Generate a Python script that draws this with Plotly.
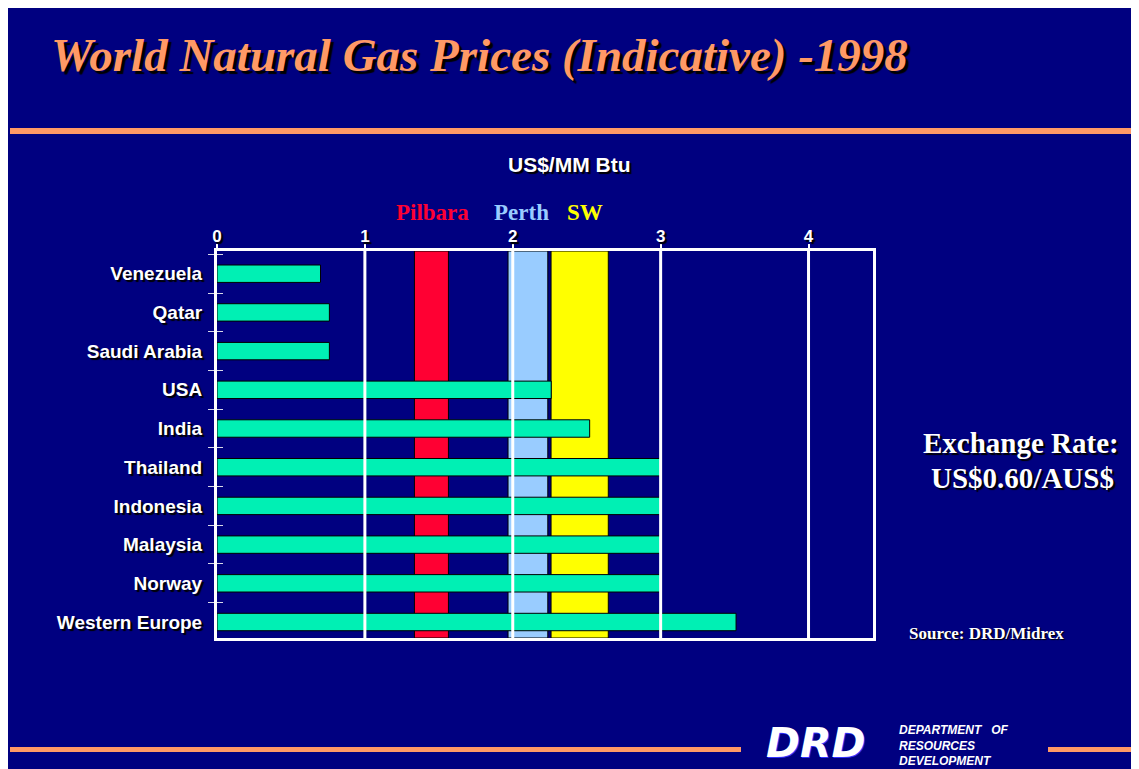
import plotly.graph_objects as go

# ---------------- data ----------------
countries = ["Venezuela", "Qatar", "Saudi Arabia", "USA", "India", "Thailand",
             "Indonesia", "Malaysia", "Norway", "Western Europe"]
prices = [0.70, 0.76, 0.76, 2.26, 2.52, 3.00, 3.00, 3.00, 3.00, 3.51]   # US$/MM Btu

band_names = ["Pilbara", "Perth", "SW"]
band_low = [1.335, 1.968, 2.259]
band_high = [1.565, 2.237, 2.646]
band_colors = ["#FF0033", "#99CCFF", "#FFFF00"]

x_ticks = [0, 1, 2, 3, 4]

# ---------------- layout helpers ----------------
W, H = 1139, 769
OFF = 8                       # page body margin of the browser
L, R, T, B = 217, 873, 251, 638   # plot area in screenshot pixels
NAVY = "#000080"
ORANGE = "#FF9966"
TEAL = "#00F0B4"


def px(x):
    return (x - L) / (R - L)


def py(y):
    return (B - y) / (B - T)


fig = go.Figure()

fig.add_trace(go.Bar(
    y=countries, x=prices, orientation="h", width=0.45,
    marker=dict(color=TEAL, line=dict(color="#000000", width=1)),
    showlegend=False, hoverinfo="x+y",
))
# invisible trace carrying the overlay axis for crossing tick marks
fig.add_trace(go.Scatter(x=[None], y=[None], yaxis="y2", showlegend=False, hoverinfo="skip"))

shapes = []
# price bands
for lo, hi, col in zip(band_low, band_high, band_colors):
    shapes.append(dict(type="rect", xref="x", yref="y domain", x0=lo, x1=hi, y0=0, y1=1,
                       fillcolor=col, line=dict(color="#000000", width=1), layer="below"))
# vertical grid lines drawn over bars
for t in x_ticks[1:]:
    shapes.append(dict(type="line", xref="x", yref="y domain", x0=t, x1=t, y0=0, y1=1,
                       line=dict(color="#FFFFFF", width=3), layer="above"))
# orange rules
shapes.append(dict(type="rect", xref="paper", yref="paper", x0=px(10), x1=px(W + 20),
                   y0=py(134), y1=py(128), fillcolor=ORANGE, line=dict(width=0), layer="above"))
shapes.append(dict(type="rect", xref="paper", yref="paper", x0=px(10), x1=px(741),
                   y0=py(752), y1=py(747), fillcolor=ORANGE, line=dict(width=0), layer="above"))
shapes.append(dict(type="rect", xref="paper", yref="paper", x0=px(1048), x1=px(W + 20),
                   y0=py(752), y1=py(747), fillcolor=ORANGE, line=dict(width=0), layer="above"))

SH = "2px 2px 1px #000000"
ann = []
ann.append(dict(text="World Natural Gas Prices (Indicative) -1998", x=px(49), y=py(55),
                xanchor="left", yanchor="middle",
                font=dict(family="Liberation Serif", size=47, color=ORANGE, weight="bold",
                          style="italic", shadow="3px 3px 1px #000000")))
ann.append(dict(text="US$/MM Btu", x=px(569), y=py(165), xanchor="center", yanchor="middle",
                font=dict(family="Liberation Sans", size=21, color="#FFFFFF", weight="bold", shadow=SH)))
for name, col, cx in zip(band_names, band_colors, [432, 521, 585]):
    ann.append(dict(text=name, x=px(cx), y=py(213), xanchor="center", yanchor="middle",
                    font=dict(family="Liberation Serif", size=23, color=col, weight="bold")))
ann.append(dict(text="Exchange Rate:", x=px(1021), y=py(443), xanchor="center", yanchor="middle",
                font=dict(family="Liberation Serif", size=29, color="#FFFFFF", weight="bold", shadow=SH)))
ann.append(dict(text="US$0.60/AUS$", x=px(1022), y=py(478), xanchor="center", yanchor="middle",
                font=dict(family="Liberation Serif", size=29, color="#FFFFFF", weight="bold", shadow=SH)))
ann.append(dict(text="Source: DRD/Midrex", x=px(907), y=py(633), xanchor="left", yanchor="middle",
                font=dict(family="Liberation Serif", size=17, color="#FFFFFF", weight="bold",
                          shadow="1px 1px 1px #000000")))
ann.append(dict(text="DRD", x=px(764), y=py(743), xanchor="left", yanchor="middle",
                font=dict(family="DejaVu Sans", size=41, color="#FFFFFF", weight="bold", style="italic",
                          shadow="1px 1px 0px #3333FF")))
ann.append(dict(text="DEPARTMENT   OF<br>RESOURCES<br>DEVELOPMENT", x=px(897), y=py(745),
                xanchor="left", yanchor="middle", align="left",
                font=dict(family="Liberation Sans", size=12, color="#FFFFFF", weight="bold",
                          style="italic")))
for a in ann:
    a.update(xref="paper", yref="paper", showarrow=False)

y_range = [9.413, -0.587]
fig.update_layout(
    width=W, height=H,
    margin=dict(l=L - OFF, r=W - (R - OFF), t=T - OFF, b=H - (B - OFF), pad=0),
    paper_bgcolor=NAVY, plot_bgcolor="rgba(0,0,0,0)",
    xaxis=dict(range=[0, 4.436], side="top", tickvals=x_ticks, showgrid=False, zeroline=False,
               showline=True, mirror=True, linecolor="#FFFFFF", linewidth=3,
               ticks="outside", ticklen=4, tickwidth=2, tickcolor="#FFFFFF", ticklabelstandoff=-5,
               tickfont=dict(family="Liberation Sans", size=17, color="#FFFFFF", weight="bold", shadow=SH),
               fixedrange=True),
    yaxis=dict(type="category", categoryorder="array", categoryarray=countries, range=y_range,
               showgrid=False, zeroline=False, showline=True, mirror=True,
               linecolor="#FFFFFF", linewidth=3, ticks="outside", tickson="boundaries",
               ticklen=6, tickwidth=1, tickcolor="#D8D8E8", ticklabelstandoff=8,
               tickfont=dict(family="Liberation Sans", size=19, color="#FFFFFF", weight="bold", shadow=SH),
               fixedrange=True),
    yaxis2=dict(overlaying="y", side="left", anchor="x", range=y_range,
                tickvals=[i - 0.5 for i in range(len(countries) + 1)], showticklabels=False,
                ticks="inside", ticklen=6, tickwidth=1, tickcolor="#D8D8E8",
                showgrid=False, zeroline=False, showline=False, fixedrange=True),
    shapes=shapes, annotations=ann,
    font=dict(family="Liberation Sans", color="#FFFFFF"),
)

fig.write_html("out.html")
